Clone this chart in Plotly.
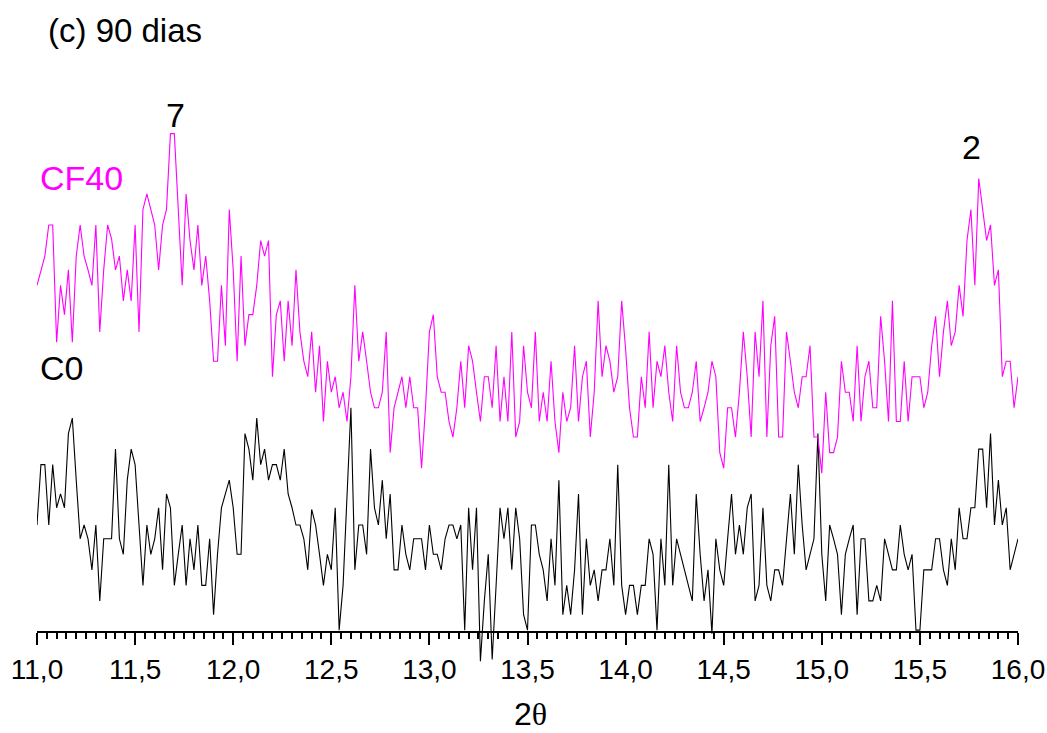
import numpy as np
import plotly.graph_objects as go

# 2-theta grid (step 0.02 deg)
two_theta = np.round(np.linspace(11.0, 16.0, 251), 2)

# CF40 intensity (a.u., offset trace)
cf40 = [
    1135, 1180, 1220, 1310, 1310, 970, 1135, 1050, 1180, 970,
    1220, 1310, 1220, 1180, 1135, 1310, 1000, 1180, 1310, 1270,
    1180, 1220, 1090, 1180, 1090, 1310, 1000, 1355, 1400, 1355,
    1310, 1180, 1310, 1355, 1575, 1575, 1350, 1135, 1400, 1265,
    1180, 1310, 1135, 1220, 1090, 915, 915, 1135, 960, 1355,
    1180, 915, 1220, 960, 1050, 1050, 1135, 1265, 1220, 1265,
    870, 1050, 1090, 915, 1090, 960, 1180, 1000, 915, 870,
    1000, 825, 960, 740, 915, 825, 870, 780, 825, 740,
    870, 1135, 915, 1000, 915, 825, 780, 780, 825, 1000,
    650, 780, 825, 870, 780, 870, 780, 780, 605, 780,
    1000, 1050, 870, 825, 825, 740, 695, 780, 915, 780,
    960, 915, 825, 740, 870, 870, 780, 960, 740, 870,
    740, 1000, 695, 740, 960, 825, 780, 1000, 740, 825,
    740, 915, 740, 650, 825, 740, 780, 960, 740, 870,
    915, 695, 825, 1090, 870, 960, 915, 825, 870, 1090,
    950, 780, 695, 695, 870, 780, 1000, 780, 915, 870,
    960, 825, 740, 960, 825, 780, 780, 825, 915, 740,
    780, 825, 915, 870, 650, 605, 780, 780, 695, 825,
    1000, 870, 695, 1000, 870, 1090, 695, 960, 1045, 695,
    695, 1000, 915, 825, 780, 870, 870, 960, 695, 695,
    590, 825, 650, 650, 695, 915, 825, 825, 740, 960,
    740, 870, 915, 780, 780, 1045, 915, 740, 1090, 740,
    740, 915, 740, 870, 870, 870, 780, 825, 960, 1045,
    870, 1000, 1090, 960, 1000, 1135, 1045, 1265, 1355, 1135,
    1445, 1355, 1265, 1310, 1135, 1180, 870, 915, 915, 780,
    870,
]

# C0 intensity (a.u.)
c0 = [
    440, 615, 615, 440, 615, 490, 530, 490, 705, 750,
    570, 400, 440, 400, 310, 440, 220, 400, 400, 400,
    660, 400, 355, 570, 660, 615, 440, 265, 440, 355,
    400, 490, 310, 530, 490, 265, 355, 440, 265, 400,
    310, 440, 265, 265, 400, 180, 355, 490, 530, 570,
    490, 355, 355, 705, 660, 570, 750, 615, 660, 570,
    615, 615, 570, 660, 530, 490, 440, 440, 400, 310,
    485, 440, 355, 265, 355, 310, 490, 135, 265, 530,
    780, 310, 440, 440, 355, 660, 490, 440, 570, 400,
    530, 310, 310, 440, 355, 310, 400, 400, 400, 310,
    440, 355, 355, 310, 400, 440, 440, 400, 440, 135,
    490, 310, 490, 45, 220, 355, 50, 265, 490, 400,
    490, 310, 490, 400, 180, 135, 440, 440, 355, 310,
    220, 400, 265, 570, 180, 265, 180, 310, 530, 180,
    400, 265, 310, 220, 310, 310, 400, 265, 615, 265,
    180, 265, 265, 180, 265, 265, 400, 355, 135, 400,
    265, 615, 265, 400, 355, 310, 265, 220, 530, 355,
    220, 310, 125, 400, 310, 265, 400, 530, 355, 440,
    355, 490, 530, 220, 265, 490, 265, 220, 310, 310,
    265, 400, 530, 355, 615, 440, 310, 355, 400, 705,
    355, 220, 440, 400, 355, 180, 355, 400, 440, 180,
    400, 400, 220, 220, 265, 220, 400, 355, 310, 310,
    440, 355, 310, 355, 135, 135, 310, 310, 310, 400,
    400, 310, 265, 400, 310, 490, 400, 400, 490, 490,
    660, 660, 490, 705, 440, 570, 440, 490, 310, 355,
    400,
]

x_ticks = [11.0, 11.5, 12.0, 12.5, 13.0, 13.5, 14.0, 14.5, 15.0, 15.5, 16.0]

FONT = "Liberation Sans"

fig = go.Figure()
fig.add_trace(go.Scatter(x=two_theta, y=c0, mode="lines",
                         line=dict(color="black", width=1.1), name="C0"))
fig.add_trace(go.Scatter(x=two_theta, y=cf40, mode="lines",
                         line=dict(color="#FF00FF", width=1.1), name="CF40"))

W, H = 1047, 733
L, R, T, B = 37, 29, 126, 62
pw, ph = W - L - R, H - T - B

def px(xp):
    return (xp - L) / pw

def py(yp):
    return (H - B - yp) / ph

fig.update_layout(
    width=W, height=H,
    margin=dict(l=L, r=R, t=T, b=B, pad=0, autoexpand=False),
    paper_bgcolor="white", plot_bgcolor="white",
    showlegend=False,
    separators=",.",
    font=dict(family=FONT, color="black"),
    xaxis=dict(
        range=[11.0, 16.0], tickvals=x_ticks, tickformat=".1f",
        automargin=False,
        showgrid=False, zeroline=False,
        showline=True, linecolor="black", linewidth=2,
        ticks="outside", ticklen=12, tickwidth=2, tickcolor="black",
        tickfont=dict(family=FONT, size=28, color="black"),
        minor=dict(dtick=0.05, tick0=11.0, ticks="outside", ticklen=6,
                   tickwidth=2, tickcolor="black", showgrid=False),
        anchor="free", position=py(632),
    ),
    yaxis=dict(range=[16.6, 1597.1], visible=False, showgrid=False,
               zeroline=False, automargin=False),
    annotations=[
        dict(text="(c) 90 dias", x=px(46), y=py(30), xref="paper", yref="paper",
             xanchor="left", yanchor="middle", showarrow=False,
             font=dict(size=33, color="black", family=FONT)),
        dict(text="CF40", x=px(38), y=py(178), xref="paper", yref="paper",
             xanchor="left", yanchor="middle", showarrow=False,
             font=dict(size=34, color="#FF00FF", family=FONT)),
        dict(text="C0", x=px(38), y=py(368), xref="paper", yref="paper",
             xanchor="left", yanchor="middle", showarrow=False,
             font=dict(size=34, color="black", family=FONT)),
        dict(text="7", x=px(175), y=py(115), xref="paper", yref="paper",
             xanchor="center", yanchor="middle", showarrow=False,
             font=dict(size=34, color="black", family=FONT)),
        dict(text="2", x=px(971), y=py(147), xref="paper", yref="paper",
             xanchor="center", yanchor="middle", showarrow=False,
             font=dict(size=34, color="black", family=FONT)),
        dict(text="2<span style='font-family:Liberation Serif'>θ</span>",
             x=px(530), y=py(714), xref="paper", yref="paper",
             xanchor="center", yanchor="middle", showarrow=False,
             font=dict(size=32, color="black", family=FONT)),
    ],
)

fig.write_html("out.html")
